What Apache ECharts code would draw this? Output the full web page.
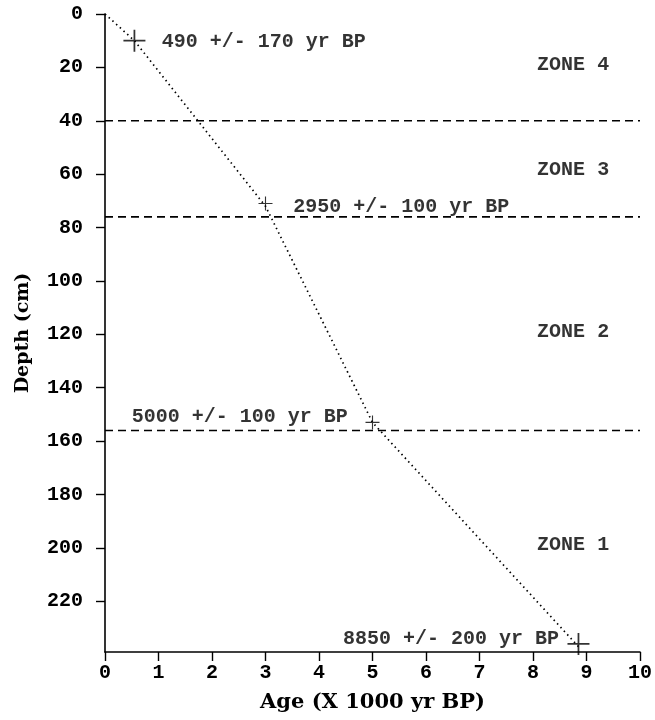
<!DOCTYPE html>
<html>
<head>
<meta charset="utf-8">
<script src="https://cdn.jsdelivr.net/npm/echarts@6/dist/echarts.min.js"></script>
<style>
  html, body { margin: 0; padding: 0; background: #fff; }
  #chart { width: 655px; height: 720px; }
</style>
</head>
<body>
<div id="chart"></div>
<script>
// dated samples: age (x1000 yr BP) vs depth (cm)
const sampleAge = [0.55, 3.0, 5.0, 8.85];
const sampleDepth = [10, 71, 153, 236];
const sampleSize = [22, 14, 14, 22];

// dotted age-depth line
const lineAge = [0, 0.55, 3.0, 5.0, 8.85];
const lineDepth = [0, 10, 72, 153, 237];

// zone boundaries (depth, cm)
const zoneBounds = [40, 76, 156];

// date labels
const dateText = ['490 +/- 170 yr BP', '2950 +/- 100 yr BP', '5000 +/- 100 yr BP', '8850 +/- 200 yr BP'];
const dateAge = [1.06, 3.52, 0.5, 4.45];
const dateDepth = [10.5, 72.4, 151, 234];

// zone labels
const zoneText = ['ZONE 4', 'ZONE 3', 'ZONE 2', 'ZONE 1'];
const zoneAge = [8.75, 8.75, 8.75, 8.75];
const zoneDepth = [19, 58.5, 119, 199];

const mono = '"Liberation Mono", monospace';
const serif = '"DejaVu Serif", serif';

const myChart = echarts.init(document.getElementById('chart'));

let series = [];

series.push({
    type: 'line',
    data: lineAge.map((a, i) => [a, lineDepth[i]]),
    symbol: 'none',
    lineStyle: { color: '#000', width: 1.7, type: [1.5, 3.5] },
    silent: true,
    z: 3
});

zoneBounds.forEach(d => {
    series.push({
        type: 'line',
        data: [[0, d], [10, d]],
        symbol: 'none',
        lineStyle: { color: '#000', width: 1.6, type: [8, 5] },
        silent: true,
        z: 2
    });
});

series.push({
    type: 'scatter',
    data: sampleAge.map((a, i) => ({ value: [a, sampleDepth[i]], symbolSize: sampleSize[i] })),
    symbol: 'path://M9.2,0h1.6v20h-1.6z M0,9.2h20v1.6h-20z',
    itemStyle: { color: '#000' },
    silent: true,
    z: 4
});

series.push({
    type: 'scatter',
    data: dateAge.map((a, i) => ({ value: [a, dateDepth[i]], name: dateText[i] })),
    symbolSize: 0,
    label: {
        show: true,
        position: 'right',
        distance: 0,
        formatter: p => p.name,
        fontFamily: mono,
        fontWeight: 'bold',
        fontSize: 20,
        color: '#000'
    },
    silent: true,
    z: 5
});

series.push({
    type: 'scatter',
    data: zoneAge.map((a, i) => ({ value: [a, zoneDepth[i]], name: zoneText[i] })),
    symbolSize: 0,
    label: {
        show: true,
        position: 'inside',
        formatter: p => p.name,
        fontFamily: mono,
        fontWeight: 'bold',
        fontSize: 20,
        color: '#000'
    },
    silent: true,
    z: 5
});

myChart.setOption({
    animation: false,
    backgroundColor: '#fff',
    grid: { left: 105, right: 11, top: 14, bottom: 68 },
    xAxis: {
        type: 'value',
        min: 0,
        max: 10,
        interval: 1,
        name: 'Age (X 1000 yr BP)',
        nameLocation: 'middle',
        nameGap: 40,
        nameTextStyle: { fontFamily: serif, fontSize: 21, fontWeight: 'bold', color: '#000' },
        axisLine: { onZero: false, lineStyle: { color: '#000', width: 1.6 } },
        axisTick: { length: 9, lineStyle: { color: '#000', width: 1.4 } },
        axisLabel: { margin: 11, fontFamily: mono, fontWeight: 'bold', fontSize: 20, color: '#000' },
        splitLine: { show: false }
    },
    yAxis: {
        type: 'value',
        inverse: true,
        min: 0,
        max: 239,
        interval: 20,
        name: 'Depth (cm)',
        nameLocation: 'middle',
        nameGap: 72,
        nameTextStyle: { fontFamily: serif, fontSize: 19, fontWeight: 'bold', color: '#000' },
        axisLine: { show: true, onZero: false, lineStyle: { color: '#000', width: 1.6 } },
        axisTick: { show: true, length: 9, lineStyle: { color: '#000', width: 1.4 } },
        axisLabel: { margin: 22, showMaxLabel: false, fontFamily: mono, fontWeight: 'bold', fontSize: 20, color: '#000' },
        splitLine: { show: false }
    },
    series: series
});
</script>
</body>
</html>
